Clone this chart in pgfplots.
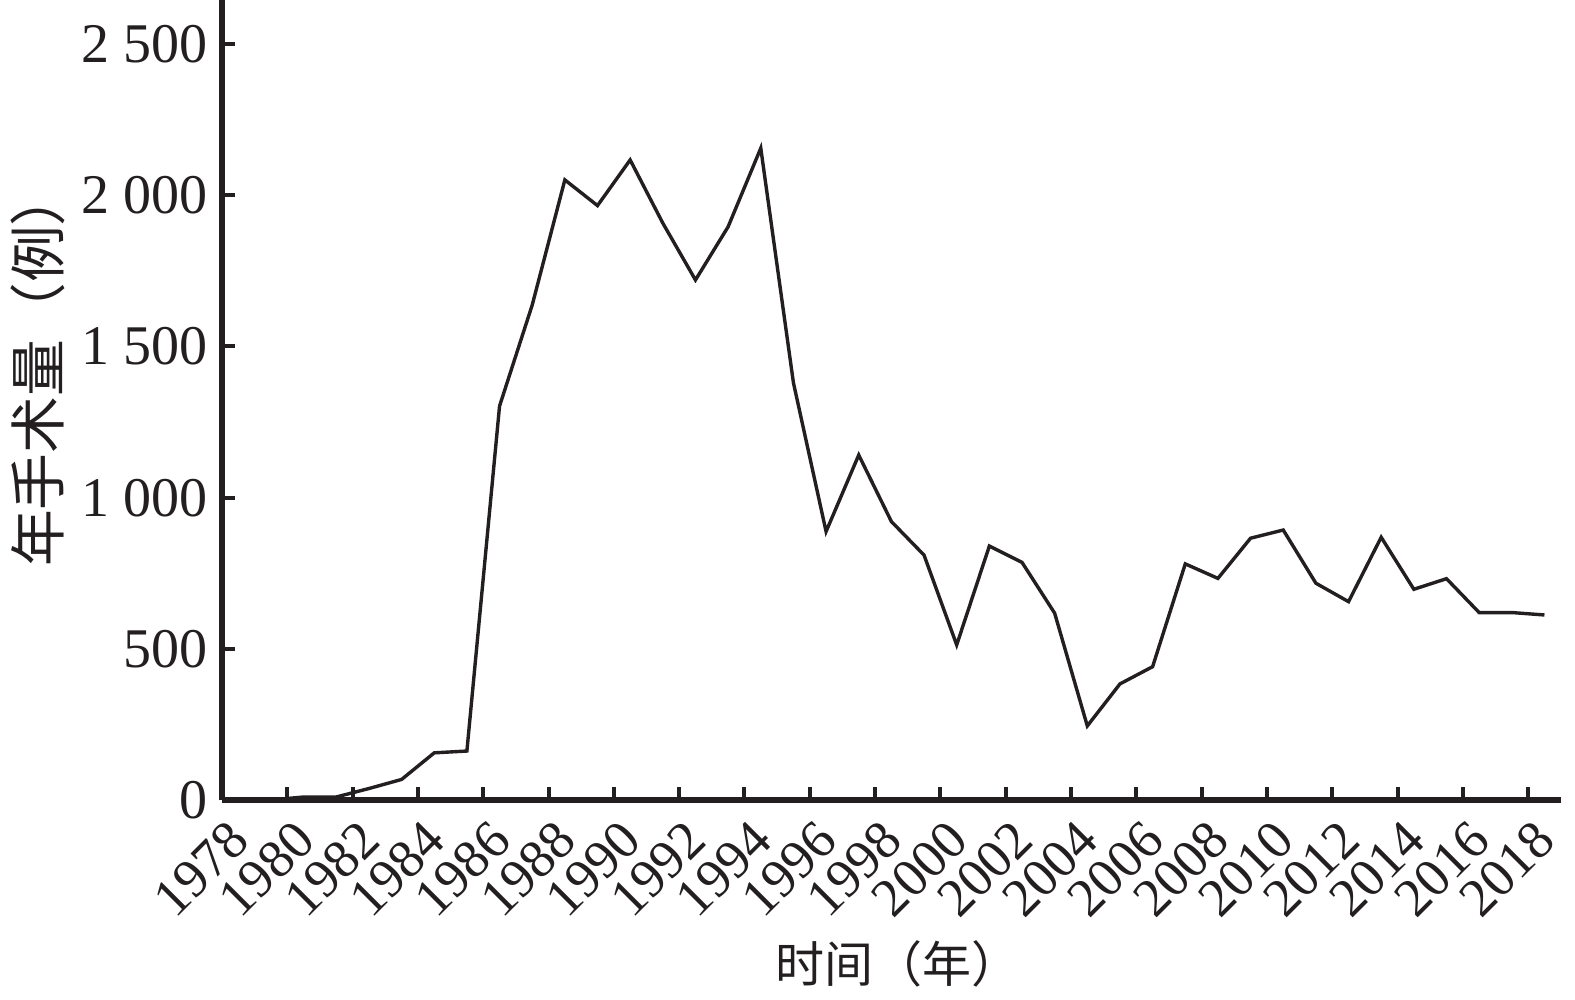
\documentclass[border=0pt]{standalone}
\usepackage{pgfplots}
\pgfplotsset{compat=1.18}
\usepackage{fontspec}
\setmainfont{Liberation Serif}
\newfontfamily\cjk{Noto Sans CJK SC}
\definecolor{ink}{HTML}{231F20}
\begin{document}
\begin{tikzpicture}
\useasboundingbox (-55.5pt,-49.75pt) rectangle (338.25pt,200pt);
\begin{axis}[
  at={(0,0)}, anchor=south west,
  scale only axis,
  width=334.7pt, height=200pt,
  xmin=1978, xmax=2019,
  ymin=0, ymax=2646,
  axis lines*=left,
  axis line style={line width=1.4pt, color=ink},
  tick align=inside,
  major tick length=3.3pt,
  tick style={line width=1pt, color=ink},
  xtick={1978,1980,...,2018},
  ytick={0,500,...,2500},
  /pgf/number format/assume math mode=true,
  x tick label style={/pgf/number format/.cd, 1000 sep={}, /tikz/.cd, rotate=45, anchor=east, xshift=1.2pt, yshift=-8.5pt, font=\fontsize{13.5}{16}\selectfont, text=ink},
  y tick label style={/pgf/number format/.cd, 1000 sep={\ }, /tikz/.cd, font=\fontsize{14}{16}\selectfont, text=ink},
  xlabel={\cjk 时间（年）},
  ylabel={\cjk 年手术量（例）},
  xlabel style={at={(axis description cs:0.505,0)}, anchor=center, yshift=-41pt, font=\fontsize{12.25}{14}\selectfont, text=ink},
  ylabel style={at={(axis description cs:0,0.54)}, anchor=center, yshift=46pt, font=\fontsize{14.2}{16}\selectfont, text=ink},
  clip=false,
]
\addplot[color=ink, line width=0.85pt, mark=none] table {
x y
1979.5 0
1980.5 10
1981.5 10
1982.5 38
1983.5 68
1984.5 156
1985.5 162
1986.5 1303
1987.5 1637
1988.5 2051
1989.5 1966
1990.5 2117
1991.5 1908
1992.5 1720
1993.5 1896
1994.5 2156
1995.5 1380
1996.5 888
1997.5 1141
1998.5 921
1999.5 810
2000.5 513
2001.5 840
2002.5 786
2003.5 618
2004.5 245
2005.5 384
2006.5 441
2007.5 781
2008.5 733
2009.5 866
2010.5 893
2011.5 717
2012.5 656
2013.5 869
2014.5 697
2015.5 732
2016.5 620
2017.5 620
2018.5 612
};
\end{axis}
\end{tikzpicture}
\end{document}
